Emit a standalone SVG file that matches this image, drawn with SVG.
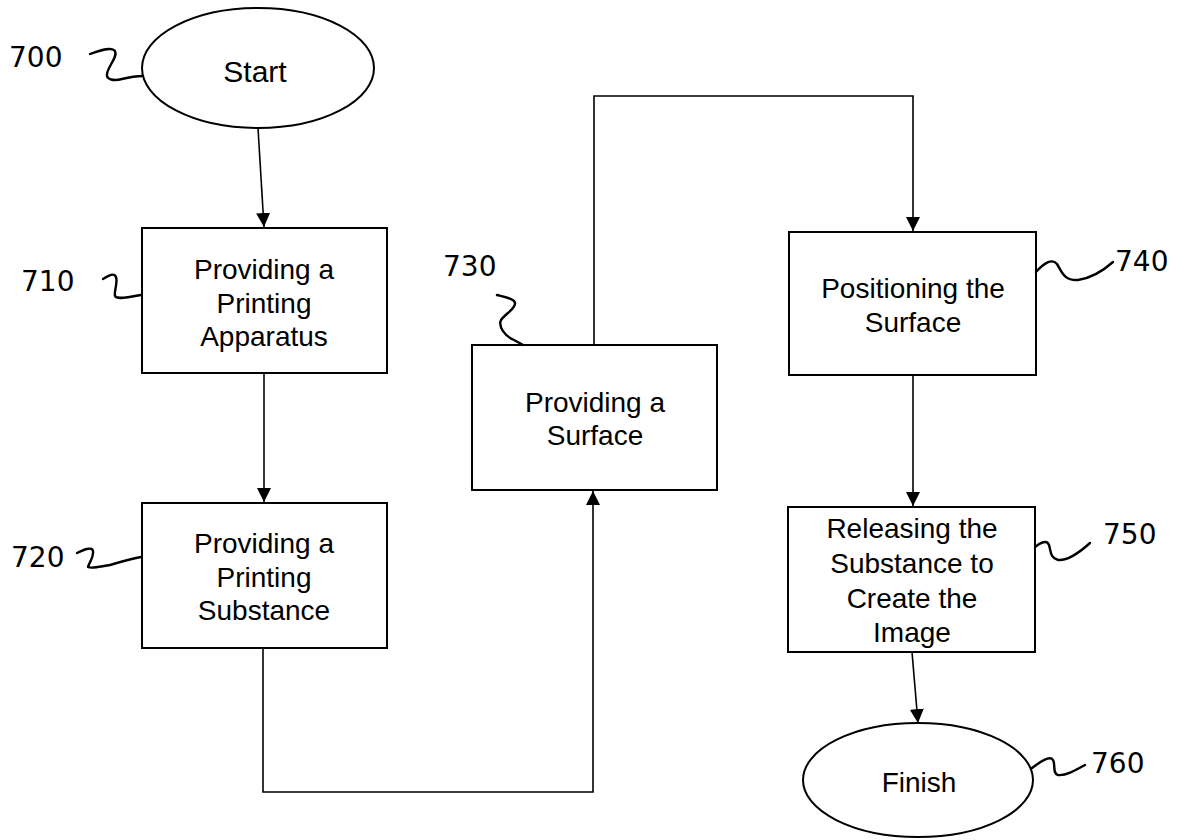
<svg xmlns="http://www.w3.org/2000/svg" width="1191" height="840" viewBox="0 0 1191 840">
<style>
.shape{fill:#fff;stroke:#000;stroke-width:2}
.t{font-family:"Liberation Sans",Arial,sans-serif;font-size:28px;fill:#000;text-anchor:middle}
.ref{font-family:"DejaVu Sans","Liberation Sans",sans-serif;font-size:28px;fill:#000}
.lead{fill:none;stroke:#000;stroke-width:2.4;stroke-linecap:round;stroke-linejoin:round}
.con{fill:none;stroke:#000;stroke-width:1.6}
</style>
<defs>
<marker id="ah" markerWidth="14" markerHeight="14" refX="14" refY="7" orient="auto" markerUnits="userSpaceOnUse">
<path d="M0,0 L14,7 L0,14 Z" fill="#000"/>
</marker>
</defs>
<rect width="1191" height="840" fill="#fff"/>
<g id="connectors">
<line class="con" x1="258" y1="128" x2="264" y2="227" marker-end="url(#ah)"/>
<line class="con" x1="264" y1="373" x2="264" y2="502" marker-end="url(#ah)"/>
<polyline class="con" points="263,648 263,792 593,792 593,491" marker-end="url(#ah)"/>
<polyline class="con" points="594,345 594,96 913,96 913,231" marker-end="url(#ah)"/>
<line class="con" x1="913" y1="375" x2="913" y2="506" marker-end="url(#ah)"/>
<line class="con" x1="912" y1="652" x2="918" y2="723" marker-end="url(#ah)"/>
</g>
<g id="n700">
<ellipse class="shape" cx="258" cy="68" rx="116" ry="60"/>
<text class="t" x="255" y="82" style="font-size:30px">Start</text>
<text class="ref" x="9" y="67">700</text>
<path class="lead" d="M90,54 C100,50 112,47 115,51 C118,57 108,66 107,74 C106,80 114,81 122,79 C130,77 136,76 143,76"/>
</g>
<g id="n710">
<rect class="shape" x="142" y="228" width="245" height="145"/>
<text class="t" x="264" y="279">Providing a</text>
<text class="t" x="264" y="313">Printing</text>
<text class="t" x="264" y="346">Apparatus</text>
<text class="ref" x="21" y="291">710</text>
<path class="lead" d="M103,279 C108,276 114,272 116,277 C118,283 114,290 115,296 C117,300 128,297 141,295"/>
</g>
<g id="n720">
<rect class="shape" x="142" y="503" width="245" height="145"/>
<text class="t" x="264" y="553">Providing a</text>
<text class="t" x="264" y="587">Printing</text>
<text class="t" x="264" y="620">Substance</text>
<text class="ref" x="11" y="567">720</text>
<path class="lead" d="M77,553 C83,550 92,546 93,551 C94,557 89,563 88,567 C92,569 102,566 110,565 C120,562 130,559 141,557"/>
</g>
<g id="n730">
<rect class="shape" x="472" y="345" width="245" height="145"/>
<text class="t" x="595" y="412">Providing a</text>
<text class="t" x="595" y="445">Surface</text>
<text class="ref" x="443" y="276">730</text>
<path class="lead" d="M497,295 C505,297 516,299 515,304 C514,310 505,314 501,320 C498,327 505,336 514,340 C518,342 521,344 523,345"/>
</g>
<g id="n740">
<rect class="shape" x="789" y="232" width="247" height="143"/>
<text class="t" x="913" y="298">Positioning the</text>
<text class="t" x="913" y="332">Surface</text>
<text class="ref" x="1115" y="271">740</text>
<path class="lead" d="M1036,272 C1044,263 1052,258 1057,264 C1062,272 1064,281 1078,280 C1092,278 1104,270 1113,262"/>
</g>
<g id="n750">
<rect class="shape" x="788" y="507" width="247" height="145"/>
<text class="t" x="912" y="538">Releasing the</text>
<text class="t" x="912" y="573">Substance to</text>
<text class="t" x="912" y="608">Create the</text>
<text class="t" x="912" y="642">Image</text>
<text class="ref" x="1103" y="544">750</text>
<path class="lead" d="M1035,547 C1040,543 1047,539 1049,545 C1051,551 1050,558 1058,560 C1068,561 1080,552 1090,543"/>
</g>
<g id="n760">
<ellipse class="shape" cx="918" cy="780" rx="115" ry="57"/>
<text class="t" x="919" y="792">Finish</text>
<text class="ref" x="1091" y="773">760</text>
<path class="lead" d="M1032,768 C1040,762 1050,755 1053,760 C1056,766 1052,773 1058,775 C1066,776 1076,770 1085,765"/>
</g>
</svg>
